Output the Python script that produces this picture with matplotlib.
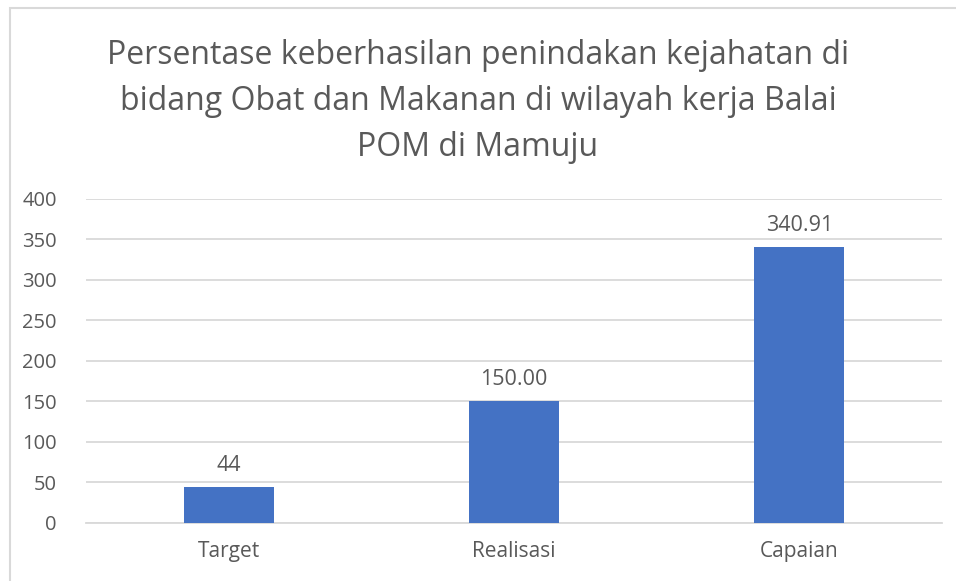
import matplotlib
matplotlib.use("Agg")
import matplotlib.pyplot as plt
from matplotlib.patches import Rectangle

categories = ["Target", "Realisasi", "Capaian"]
values = [44, 150.00, 340.91]
value_labels = ["44", "150.00", "340.91"]
yticks = [0, 50, 100, 150, 200, 250, 300, 350, 400]
title = "Persentase keberhasilan penindakan kejahatan di\nbidang Obat dan Makanan di wilayah kerja Balai\nPOM di Mamuju"

plt.rcParams['font.family'] = ['Open Sans', 'DejaVu Sans']
gray = "#595959"

fig = plt.figure(figsize=(9.56, 5.81), dpi=100)
fig.patches.append(Rectangle((10/956, -0.1), 1.2, 1 - 7.5/581 + 0.1, transform=fig.transFigure,
                             fill=False, edgecolor="#D9D9D9", linewidth=1.5))

ax = fig.add_axes([86/956, 1 - 522.7/581, (942 - 86)/956, (522.7 - 199)/581])
x = range(len(categories))
ax.bar(x, values, width=0.316, color="#4472C4", zorder=3)
ax.set_xlim(-0.5, 2.5)
ax.set_ylim(0, 400)
ax.set_yticks(yticks)
ax.set_xticks(list(x))
ax.set_xticklabels(categories)
ax.grid(axis="y", color="#D9D9D9", linewidth=1.3, zorder=0)
for s in ["top", "right", "left"]:
    ax.spines[s].set_visible(False)
ax.spines["bottom"].set_color("#D9D9D9")
ax.spines["bottom"].set_linewidth(1.3)
ax.tick_params(axis="y", length=0, colors=gray, labelsize=14.5, pad=21)
ax.tick_params(axis="x", length=0, colors=gray, labelsize=15, pad=13)

for xi, v, lab in zip(x, values, value_labels):
    ax.annotate(lab, (xi, v), xytext=(0, 8), textcoords="offset points",
                ha="center", va="bottom", color=gray, fontsize=15.5)

fig.text(0.5, 1 - 101.5/581, title, ha="center", va="center", fontsize=23,
         color=gray, linespacing=1.5)

fig.savefig("out.png", dpi=100)
